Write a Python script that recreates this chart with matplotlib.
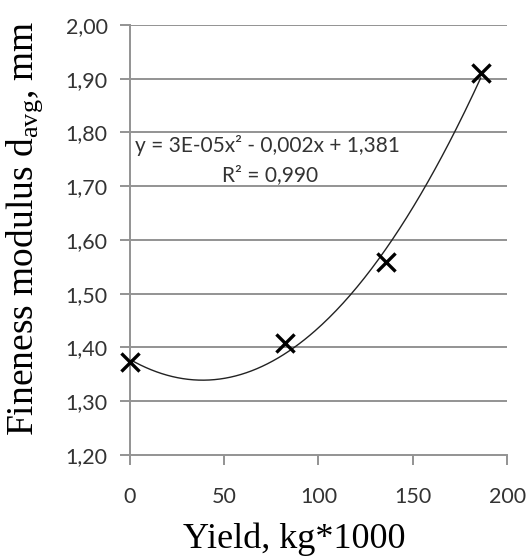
import numpy as np
import matplotlib.pyplot as plt

# data
yield_kg = [0, 82, 136, 186]
fineness = [1.373, 1.408, 1.559, 1.911]
x_ticks = [0, 50, 100, 150, 200]
y_ticks = [1.20, 1.30, 1.40, 1.50, 1.60, 1.70, 1.80, 1.90, 2.00]
equation = "y = 3E-05x² - 0,002x + 1,381"
r_squared = "R² = 0,990"

plt.rcParams['mathtext.fontset'] = 'custom'
plt.rcParams['mathtext.rm'] = 'Liberation Serif'
plt.rcParams['mathtext.it'] = 'Liberation Serif:italic'

fig = plt.figure(figsize=(5.26, 5.56), dpi=100)
ax = fig.add_axes([0.247, 0.182, 0.717, 0.773])

grid_col = '#939393'
for yv in y_ticks[1:]:
    ax.axhline(yv, color=grid_col, lw=1.4, zorder=1)

# polynomial trendline (2nd order)
coef = np.polyfit(yield_kg, fineness, 2)
xs = np.linspace(min(yield_kg), max(yield_kg), 200)
ax.plot(xs, np.polyval(coef, xs), color='#222222', lw=1.0, zorder=2)

ax.scatter(yield_kg, fineness, marker='x', s=170, color='black', linewidths=2.4,
           zorder=3, clip_on=False)

ax.set_xlim(0, 200)
ax.set_ylim(1.20, 2.00)
ax.set_xticks(x_ticks)
ax.set_yticks(y_ticks)
ax.set_yticklabels([f'{v:.2f}'.replace('.', ',') for v in y_ticks])

for sp in ['top', 'right']:
    ax.spines[sp].set_visible(False)
for sp in ['left', 'bottom']:
    ax.spines[sp].set_color(grid_col)
    ax.spines[sp].set_linewidth(1.4)

ax.tick_params(axis='y', length=7, width=1.4, color=grid_col, pad=9, labelsize=15.5, labelcolor='#333333')
ax.tick_params(axis='x', length=7, width=1.4, color=grid_col, pad=16, labelsize=15.5, labelcolor='#333333')
for lab in ax.get_xticklabels() + ax.get_yticklabels():
    lab.set_family('Lato')

ax.text(0.013, 0.72, equation, transform=ax.transAxes, fontsize=15, family='Lato',
        color='#333333', va='center', zorder=4)
ax.text(0.371, 0.651, r_squared, transform=ax.transAxes, fontsize=15, family='Lato',
        color='#333333', ha='center', va='center', zorder=4)

ax.set_xlabel('Yield, kg*1000', family='Liberation Serif', fontsize=26)
ax.set_ylabel(r'Fineness modulus d$_{\mathrm{avg}}$, mm', family='Liberation Serif', fontsize=27)
ax.xaxis.set_label_coords(0.435, -0.158)
ax.yaxis.set_label_coords(-0.225, 0.528)

fig.savefig('out.png', dpi=100)
